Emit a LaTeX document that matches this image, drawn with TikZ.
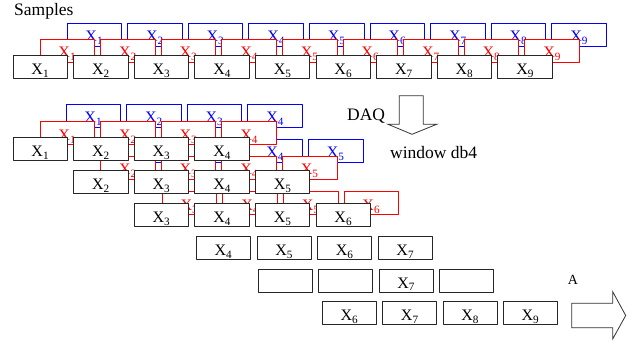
\documentclass[tikz,border=0pt]{standalone}
\usepackage{fontspec}
\setmainfont{Liberation Serif}
\newfontfamily\timesf{Liberation Serif}
\usepackage{tikz}
\usetikzlibrary{arrows}

\newcommand{\sx}[1]{X\textsubscript{#1}}

\tikzset{
  cell/.style={draw=black!85,fill=white,line width=1pt,minimum width=54.5pt,minimum height=23pt,inner sep=0pt,text height=15pt,text depth=0pt,font=\timesf\fontsize{16}{16}\selectfont},
  redcell/.style={cell,draw=red,text=red,line width=0.8pt},
  bluecell/.style={cell,draw=blue,text=blue,line width=0.8pt},
  lowcell/.style={cell,minimum width=54pt,minimum height=22.5pt},
  caption/.style={anchor=base west,inner sep=0pt,font=\timesf\fontsize{17.5}{17.5}\selectfont},
  bigarrow/.style={draw=black!80,fill=white,line width=0.8pt,line join=miter}
}

\begin{document}
\begin{tikzpicture}[line cap=round,line join=round,>=triangle 45,x=1pt,y=-1pt]
	\useasboundingbox (0,0) rectangle (643,347);
	\node[caption] (samples) at (14,16) {Samples};
	\node[bluecell] (sb1) at (94.3,34.5) {\sx{1}};
	\node[bluecell] (sb2) at (154.9,34.5) {\sx{2}};
	\node[bluecell] (sb3) at (215.5,34.5) {\sx{3}};
	\node[bluecell] (sb4) at (276.1,34.5) {\sx{4}};
	\node[bluecell] (sb5) at (336.7,34.5) {\sx{5}};
	\node[bluecell] (sb6) at (397.3,34.5) {\sx{6}};
	\node[bluecell] (sb7) at (457.9,34.5) {\sx{7}};
	\node[bluecell] (sb8) at (518.5,34.5) {\sx{8}};
	\node[bluecell] (sb9) at (579.1,34.5) {\sx{9}};
	\node[redcell] (sr1) at (67.3,50.5) {\sx{1}};
	\node[redcell] (sr2) at (127.9,50.5) {\sx{2}};
	\node[redcell] (sr3) at (188.5,50.5) {\sx{3}};
	\node[redcell] (sr4) at (249.1,50.5) {\sx{4}};
	\node[redcell] (sr5) at (309.7,50.5) {\sx{5}};
	\node[redcell] (sr6) at (370.3,50.5) {\sx{6}};
	\node[redcell] (sr7) at (430.9,50.5) {\sx{7}};
	\node[redcell] (sr8) at (491.5,50.5) {\sx{8}};
	\node[redcell] (sr9) at (552.1,50.5) {\sx{9}};
	\node[cell] (sk1) at (40.3,67.5) {\sx{1}};
	\node[cell] (sk2) at (100.9,67.5) {\sx{2}};
	\node[cell] (sk3) at (161.5,67.5) {\sx{3}};
	\node[cell] (sk4) at (222.1,67.5) {\sx{4}};
	\node[cell] (sk5) at (282.7,67.5) {\sx{5}};
	\node[cell] (sk6) at (343.3,67.5) {\sx{6}};
	\node[cell] (sk7) at (403.9,67.5) {\sx{7}};
	\node[cell] (sk8) at (464.5,67.5) {\sx{8}};
	\node[cell] (sk9) at (525.1,67.5) {\sx{9}};
	\node[redcell] (cr3) at (189.5,203) {\sx{3}};
	\node[redcell] (cr4) at (250.1,203) {\sx{4}};
	\node[redcell] (cr5) at (310.7,203) {\sx{5}};
	\node[redcell] (cr6) at (371.3,203) {\sx{6}};
	\node[cell] (ck3) at (161.5,215.5) {\sx{3}};
	\node[cell] (ck4) at (222.1,215.5) {\sx{4}};
	\node[cell] (ck5) at (282.7,215.5) {\sx{5}};
	\node[cell] (ck6) at (343.3,215.5) {\sx{6}};
	\node[bluecell] (bb2) at (153.9,150.5) {\sx{2}};
	\node[bluecell] (bb3) at (214.5,150.5) {\sx{3}};
	\node[bluecell] (bb4) at (275.1,150.5) {\sx{4}};
	\node[bluecell] (bb5) at (335.7,150.5) {\sx{5}};
	\node[redcell] (br2) at (127.9,167.5) {\sx{2}};
	\node[redcell] (br3) at (188.5,167.5) {\sx{3}};
	\node[redcell] (br4) at (249.1,167.5) {\sx{4}};
	\node[redcell] (br5) at (309.7,167.5) {\sx{5}};
	\node[cell] (bk2) at (100.9,182.5) {\sx{2}};
	\node[cell] (bk3) at (161.5,182.5) {\sx{3}};
	\node[cell] (bk4) at (222.1,182.5) {\sx{4}};
	\node[cell] (bk5) at (282.7,182.5) {\sx{5}};
	\node[bluecell] (ab1) at (93.3,115.5) {\sx{1}};
	\node[bluecell] (ab2) at (153.9,115.5) {\sx{2}};
	\node[bluecell] (ab3) at (214.5,115.5) {\sx{3}};
	\node[bluecell] (ab4) at (275.1,115.5) {\sx{4}};
	\node[redcell] (ar1) at (67.3,133) {\sx{1}};
	\node[redcell] (ar2) at (127.9,133) {\sx{2}};
	\node[redcell] (ar3) at (188.5,133) {\sx{3}};
	\node[redcell] (ar4) at (249.1,133) {\sx{4}};
	\node[cell] (ak1) at (40.3,149.5) {\sx{1}};
	\node[cell] (ak2) at (100.9,149.5) {\sx{2}};
	\node[cell] (ak3) at (161.5,149.5) {\sx{3}};
	\node[cell] (ak4) at (222.1,149.5) {\sx{4}};
	\node[lowcell] (dk4) at (223.5,248) {\sx{4}};
	\node[lowcell] (dk5) at (284.1,248) {\sx{5}};
	\node[lowcell] (dk6) at (344.7,248) {\sx{6}};
	\node[lowcell] (dk7) at (405.3,248) {\sx{7}};
	\node[lowcell] (ek5) at (285,280.8) {};
	\node[lowcell] (ek6) at (345.6,280.8) {};
	\node[lowcell] (ek7) at (406.2,280.8) {\sx{7}};
	\node[lowcell] (ek8) at (466.8,280.8) {};
	\node[lowcell] (fk6) at (349.5,313) {\sx{6}};
	\node[lowcell] (fk7) at (409.8,313) {\sx{7}};
	\node[lowcell] (fk8) at (470.1,313) {\sx{8}};
	\node[lowcell] (fk9) at (530.4,313) {\sx{9}};
	\draw[bigarrow] (399.3,95.7)-- (423.3,95.7)-- (423.3,124.3)-- (436.7,124.3)-- (412,134.3)-- (388,124.3)-- (399.3,124.3)-- cycle;
	\node[caption] (daq) at (347,120.7) {DAQ};
	\node[caption] (window) at (390,159) {window db4};
	\draw[bigarrow] (571.7,303.3)-- (612.7,303.3)-- (612.7,291.7)-- (625.7,315.5)-- (612.7,339)-- (612.7,327.7)-- (571.7,327.7)-- cycle;
	\node[caption,font=\timesf\fontsize{14}{14}\selectfont] (alabel) at (567.7,284.3) {A};
\end{tikzpicture}
\end{document}
